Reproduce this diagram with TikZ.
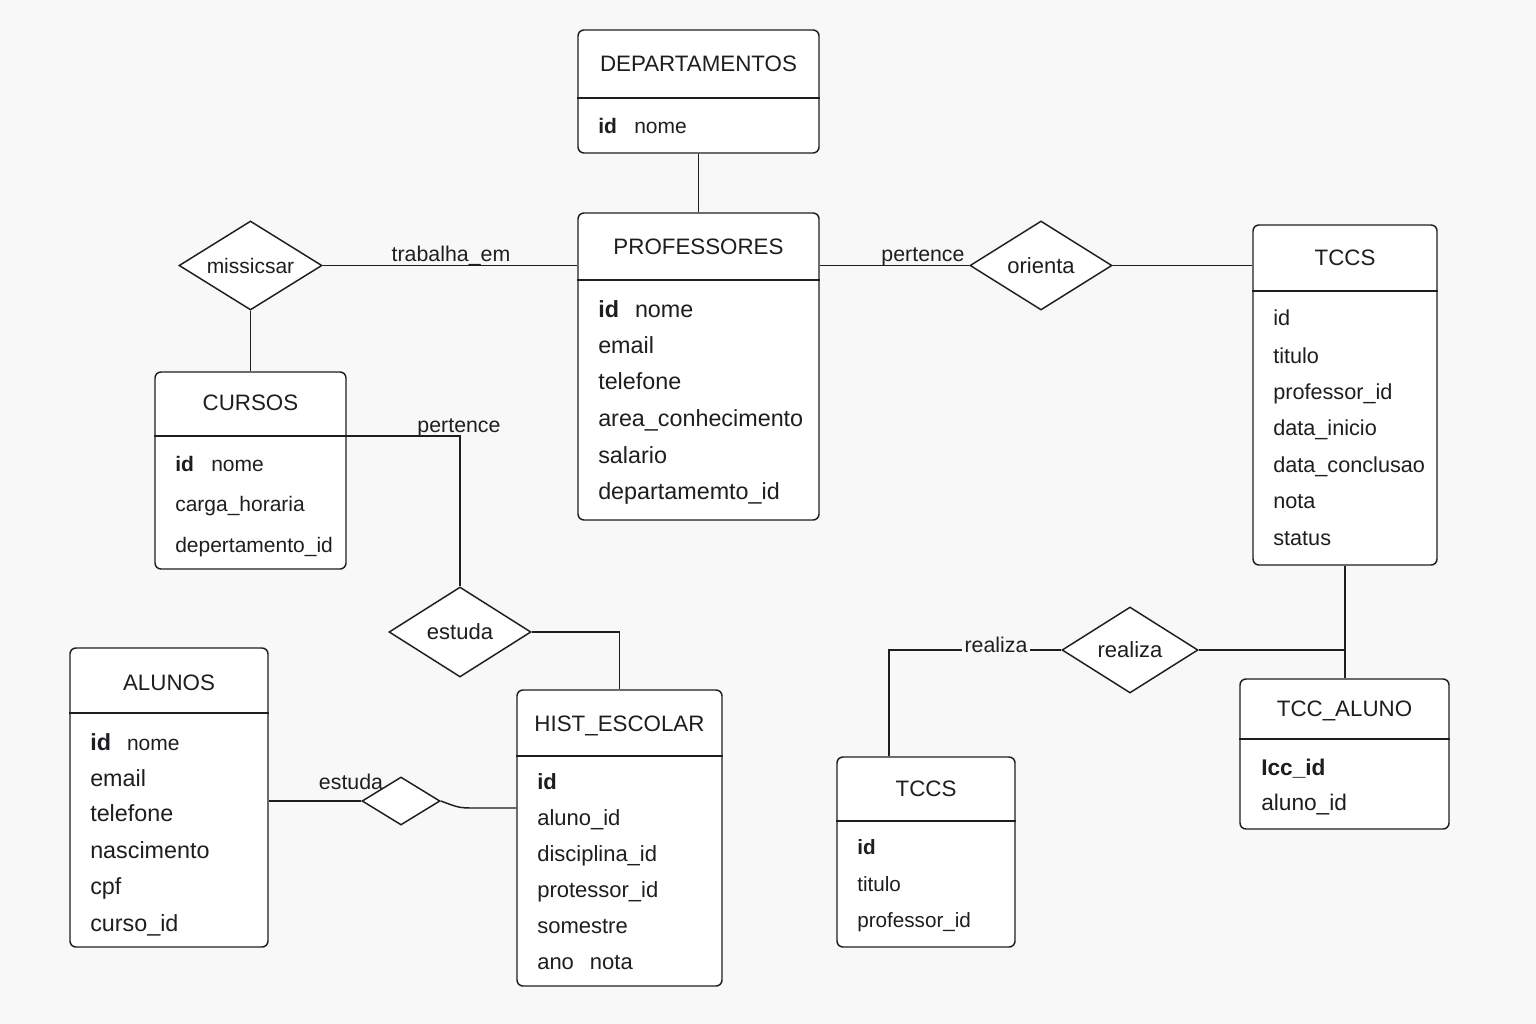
\documentclass[tikz,border=0pt]{standalone}
\usepackage{fontspec}
\setmainfont{Liberation Sans}
\usetikzlibrary{shapes.geometric,fit}

\definecolor{paper}{HTML}{F8F8F8}
\definecolor{ink}{HTML}{1E1E22}

\tikzset{
  entity/.style={draw=ink, fill=white, rounded corners=4.5pt, line width=1.1pt, inner sep=0pt},
  rule/.style={draw=ink, line width=1.1pt},
  link/.style={draw=ink, line width=1.1pt},
  relation/.style={diamond, aspect=1.6, draw=ink, fill=white, line width=1.1pt, inner sep=0pt,
    text=ink, font=\fontsize{16.5}{18}\selectfont},
  ttl/.style={anchor=base, inner sep=0pt, text=ink,
    font=\fontsize{#1}{#1}\selectfont, yshift={-0.358*#1*1pt}},
  attr/.style={anchor=base west, inner sep=0pt, text=ink,
    font=\fontsize{#1}{#1}\selectfont, yshift={-0.358*#1*1pt}},
  lbl/.style={anchor=base, inner sep=0pt, text=ink,
    font=\fontsize{16}{18}\selectfont, yshift={-0.358*16*1pt}},
}

% entity frame: name, x1, y1, x2, y2, y of the header rule
\newcommand\erbox[6]{%
  \coordinate (#1-nw) at (#2,#3);
  \coordinate (#1-se) at (#4,#5);
  \coordinate (#1-rule) at (#2,#6);
  \node[entity, fit=(#1-nw)(#1-se)] (#1) {};
  \draw[rule] (#1.west |- #1-rule) -- (#1.east |- #1-rule);
}

\begin{document}
\begin{tikzpicture}[x=0.75pt, y=-0.75pt]
  \fill[paper] (0,0) rectangle (1536,1024);
  \useasboundingbox (0,0) rectangle (1536,1024);

  % ---------- DEPARTAMENTOS ----------
  \erbox{dept}{578}{30}{819}{153}{98}
  \node[ttl=16.75] (dept-t) at (698.5,64) {DEPARTAMENTOS};
  \node[attr=15.75] (dept-r1) at (598,126) {\textbf{id}\hspace{13pt}nome};

  % ---------- PROFESSORES ----------
  \erbox{prof}{578}{213}{819}{520}{280}
  \node[ttl=16.75] (prof-t) at (698.5,247) {PROFESSORES};
  \node[attr=17.5] (prof-r1) at (598,309) {\textbf{id}\hspace{12pt}nome};
  \node[attr=17.5] (prof-r2) at (598,345) {email};
  \node[attr=17.5] (prof-r3) at (598,381) {telefone};
  \node[attr=17.5] (prof-r4) at (598,418) {area\_conhecimento};
  \node[attr=17.5] (prof-r5) at (598,455) {salario};
  \node[attr=17.5] (prof-r6) at (598,491) {departamemto\_id};

  % ---------- CURSOS ----------
  \erbox{cursos}{155}{372}{346}{569}{436}
  \node[ttl=16.75] (cursos-t) at (250.5,403) {CURSOS};
  \node[attr=15.75] (cursos-r1) at (175,464) {\textbf{id}\hspace{13pt}nome};
  \node[attr=15.75] (cursos-r2) at (175,504) {carga\_horaria};
  \node[attr=15.75] (cursos-r3) at (175,545) {depertamento\_id};

  % ---------- ALUNOS ----------
  \erbox{alunos}{70}{648}{268}{947}{713}
  \node[ttl=16.75] (alunos-t) at (169,682) {ALUNOS};
  \node[attr=17.5] (alunos-r1) at (90,742) {\textbf{id}\hspace{12pt}{\fontsize{15.75}{17}\selectfont nome}};
  \node[attr=17.5] (alunos-r2) at (90,778) {email};
  \node[attr=17.5] (alunos-r3) at (90,813) {telefone};
  \node[attr=17.5] (alunos-r4) at (90,850) {nascimento};
  \node[attr=17.5] (alunos-r5) at (90,886) {cpf};
  \node[attr=17.5] (alunos-r6) at (90,923) {curso\_id};

  % ---------- HIST_ESCOLAR ----------
  \erbox{hist}{517}{690}{722}{986}{756}
  \node[ttl=16.75] (hist-t) at (619.5,723) {HIST\_ESCOLAR};
  \node[attr=16.5] (hist-r1) at (537,782) {\textbf{id}};
  \node[attr=16.5] (hist-r2) at (537,818) {aluno\_id};
  \node[attr=16.5] (hist-r3) at (537,854) {disciplina\_id};
  \node[attr=16.5] (hist-r4) at (537,890) {protessor\_id};
  \node[attr=16.5] (hist-r5) at (537,926) {somestre};
  \node[attr=16.5] (hist-r6) at (537,962) {ano\hspace{12pt}nota};

  % ---------- TCCS (right) ----------
  \erbox{tccs}{1253}{225}{1437}{565}{291}
  \node[ttl=16.75] (tccs-t) at (1345,258) {TCCS};
  \node[attr=16.25] (tccs-r1) at (1273,318) {id};
  \node[attr=16.25] (tccs-r2) at (1273,356) {titulo};
  \node[attr=16.25] (tccs-r3) at (1273,392) {professor\_id};
  \node[attr=16.25] (tccs-r4) at (1273,428) {data\_inicio};
  \node[attr=16.25] (tccs-r5) at (1273,465) {data\_conclusao};
  \node[attr=16.25] (tccs-r6) at (1273,501) {nota};
  \node[attr=16.25] (tccs-r7) at (1273,538) {status};

  % ---------- TCCS (bottom) ----------
  \erbox{tccsb}{837}{757}{1015}{947}{821}
  \node[ttl=16.75] (tccsb-t) at (926,788) {TCCS};
  \node[attr=15.5] (tccsb-r1) at (857,847) {\textbf{id}};
  \node[attr=15.5] (tccsb-r2) at (857,884) {titulo};
  \node[attr=15.5] (tccsb-r3) at (857,920) {professor\_id};

  % ---------- TCC_ALUNO ----------
  \erbox{tccal}{1240}{679}{1449}{829}{739}
  \node[ttl=16.75] (tccal-t) at (1344.5,708) {TCC\_ALUNO};
  \node[attr=17] (tccal-r1) at (1261,767) {\textbf{Icc\_id}};
  \node[attr=17] (tccal-r2) at (1261,802) {aluno\_id};

  % ---------- relationships ----------
  \node[relation, minimum width=107.25pt, minimum height=66.75pt,
        font=\fontsize{15.75}{18}\selectfont] (mis) at (250.5,265.5) {missicsar};
  \node[relation, minimum width=106.5pt, minimum height=66.75pt] (ori) at (1041,265.5) {orienta};
  \node[relation, minimum width=106.5pt, minimum height=67.5pt] (est) at (460,632) {estuda};
  \node[relation, minimum width=102pt, minimum height=64.5pt] (rea) at (1130,650) {realiza};
  \node[relation, minimum width=58.5pt, minimum height=36pt] (estb) at (401,801) {};

  % ---------- connectors ----------
  \draw[link] (dept.south) -- (dept.south |- prof.north);
  \draw[link] (mis.east) -- (mis.east -| prof.west);
  \draw[link] (mis.south) -- (mis.south |- cursos.north);
  \draw[link] (cursos.east |- cursos-rule) -| (est.north);
  \draw[link] (est.east) -| (hist.north);
  \draw[link] (estb.west) -- (estb.west -| alunos.east);
  \coordinate (estb-bend) at (470,808);
  \draw[link] (estb.east) .. controls +(14,5) and +(-12,0) .. (estb-bend)
              -- (estb-bend -| hist.west);
  \draw[link] (ori.west) -- (ori.west -| prof.east);
  \draw[link] (ori.east) -- (ori.east -| tccs.west);
  \draw[link] (tccs.south) -- (tccs.south |- tccal.north);
  \draw[link] (rea.east) -- (rea.east -| tccs.south);
  \draw[link] (rea.west) -| ([xshift=-27.75pt]tccsb.north);

  % ---------- connector labels ----------
  \node[lbl] (l-trab) at (451,254) {trabalha\_em};
  \node[lbl] (l-pert-r) at (923,254) {pertence};
  \node[lbl] (l-pert-l) at (459,425) {pertence};
  \node[lbl] (l-estuda) at (351,782) {estuda};
  \node[lbl, fill=paper, inner xsep=2pt] (l-real) at (996,645) {realiza};
\end{tikzpicture}
\end{document}
